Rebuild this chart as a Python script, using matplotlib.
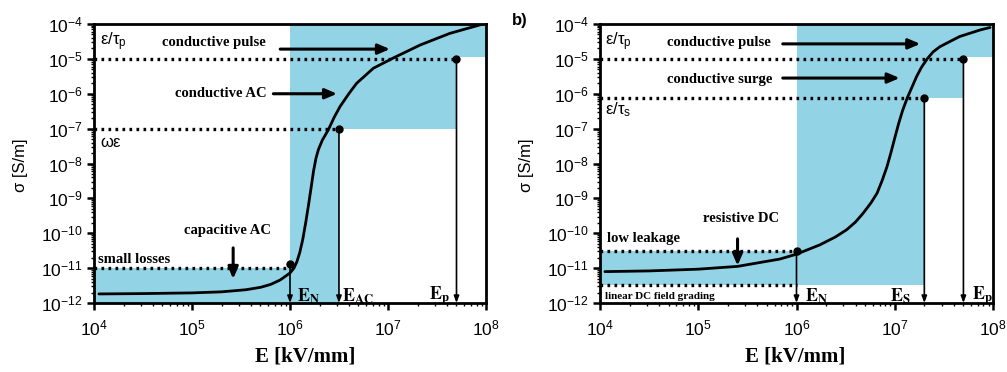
import numpy as np
import matplotlib
matplotlib.use("Agg")
import matplotlib.pyplot as plt

plt.rcParams["font.family"] = ["Liberation Sans", "DejaVu Sans"]
plt.rcParams["mathtext.fontset"] = "custom"
plt.rcParams["mathtext.rm"] = "Liberation Sans"
plt.rcParams["mathtext.it"] = "Liberation Sans:italic"
plt.rcParams["mathtext.bf"] = "Liberation Sans:bold"

BLUE = "#92d3e5"
SERIF = ["Liberation Serif", "DejaVu Serif"]

# a) curve (log10 values)
LOG_E_A = [4.05, 4.5, 5.0, 5.3, 5.55, 5.7, 5.8, 5.9, 6.0, 6.04, 6.07, 6.1, 6.13,
           6.16, 6.19, 6.215, 6.24, 6.265, 6.29, 6.33, 6.39, 6.45, 6.51, 6.6, 6.68,
           6.85, 7.05, 7.33, 7.63, 7.97]
LOG_S_A = [-11.74, -11.73, -11.71, -11.68, -11.62, -11.55, -11.47, -11.34, -11.14,
           -11.0, -10.82, -10.55, -10.18, -9.7, -9.17, -8.7, -8.22, -7.85, -7.6,
           -7.33, -7.04, -6.68, -6.37, -6.0, -5.70, -5.27, -4.98, -4.60, -4.27, -4.0]

# b) curve
LOG_E_B = [4.05, 4.5, 5.0, 5.4, 5.83, 6.0, 6.24, 6.4, 6.51, 6.6, 6.68, 6.76, 6.82,
           6.87, 6.92, 6.96, 7.0, 7.04, 7.08, 7.13, 7.18, 7.22, 7.27, 7.33, 7.39,
           7.46, 7.66, 7.87, 7.97]
LOG_S_B = [-11.1, -11.08, -11.03, -10.95, -10.74, -10.6, -10.33, -10.1, -9.9, -9.68,
           -9.42, -9.12, -8.85, -8.5, -8.1, -7.7, -7.27, -6.85, -6.48, -6.1, -5.78,
           -5.52, -5.25, -5.0, -4.8, -4.65, -4.36, -4.17, -4.1]

# characteristic fields and conductivity levels
E_N = 1e6
E_AC = 3.16e6
E_S = 2e7
E_P = 5e7
SIG_PULSE = 1e-5
SIG_AC = 1e-7
SIG_LOSS = 1e-11
SIG_SURGE = 7.6e-7
SIG_LEAK = 3.0e-11
SIG_LIN = 3.3e-12
DOT_A = [(E_N, 1.3e-11), (E_AC, SIG_AC), (E_P, SIG_PULSE)]
DOT_B = [(E_N, SIG_LEAK), (E_S, SIG_SURGE), (E_P, SIG_PULSE)]

fig = plt.figure(figsize=(10.07, 3.72), dpi=100)
ax_a = fig.add_axes([94 / 1007, 69 / 372, 392 / 1007, 279 / 372])
ax_b = fig.add_axes([600 / 1007, 69 / 372, 393 / 1007, 279 / 372])


def setup(ax):
    ax.set_xscale("log")
    ax.set_yscale("log")
    ax.set_xlim(1e4, 1e8)
    ax.set_ylim(1e-12, 1e-4)
    for s in ax.spines.values():
        s.set_linewidth(2.0)
    ax.tick_params(which="major", direction="out", length=5, width=1.8,
                   labelsize=12.5, top=False, right=False)
    ax.tick_params(which="minor", direction="out", length=2.5, width=1.0,
                   top=False, right=False)
    ax.tick_params(axis="x", pad=6)
    ax.tick_params(axis="y", pad=3)
    ax.set_yticks(10.0 ** np.arange(-12, -3))
    ax.set_xticks(10.0 ** np.arange(4, 9))
    ax.yaxis.set_minor_locator(matplotlib.ticker.LogLocator(base=10, subs=np.arange(2, 10), numticks=20))
    ax.yaxis.set_minor_formatter(matplotlib.ticker.NullFormatter())
    ax.xaxis.set_minor_formatter(matplotlib.ticker.NullFormatter())


def dotted(ax, x1, y):
    ax.plot([1e4, x1], [y, y], color="black", lw=2.4, ls=(0, (0.8, 1.3)),
            dash_capstyle="butt", zorder=3)


def drop(ax, x, y):
    ax.plot([x], [y], "o", color="black", ms=5, zorder=5)
    ax.annotate("", xy=(x, 1e-12), xytext=(x, y),
                arrowprops=dict(arrowstyle="-|>,head_length=0.4,head_width=0.15",
                                color="black", lw=1.2, shrinkA=0, shrinkB=0), zorder=4)


def arrow(ax, x0, y0, x1, y1):
    ax.annotate("", xy=(x1, y1), xytext=(x0, y0),
                arrowprops=dict(arrowstyle="-|>,head_length=0.7,head_width=0.3",
                                color="black", lw=2.2, shrinkA=0, shrinkB=0), zorder=6)


def label(ax, x, y, s, size=10.5, **kw):
    ax.text(x, y, s, fontsize=size, fontweight="bold", family=SERIF,
            va="center", ha="left", zorder=6, **kw)


def sym(ax, x, y, s, size=12):
    ax.text(x, y, s, fontsize=size, math_fontfamily="stix", va="center",
            ha="left", zorder=6)


def curve(ax, log_e, log_s):
    ax.plot(10.0 ** np.array(log_e), 10.0 ** np.array(log_s), color="black",
            lw=2.0, solid_joinstyle="round", solid_capstyle="round", zorder=4)


# ---------- a) ----------
setup(ax_a)
ax_a.fill_between([1e4, E_N], 1e-12, SIG_LOSS, color=BLUE, lw=0, zorder=1)
ax_a.fill_between([E_N, E_AC], 1e-12, 1e-4, color=BLUE, lw=0, zorder=1)
ax_a.fill_between([E_AC, E_P], SIG_AC, 1e-4, color=BLUE, lw=0, zorder=1)
ax_a.fill_between([E_P, 1e8], 1.1e-5, 1e-4, color=BLUE, lw=0, zorder=1)
dotted(ax_a, E_P, SIG_PULSE)
dotted(ax_a, E_AC, SIG_AC)
dotted(ax_a, E_N, SIG_LOSS)
for x, y in DOT_A:
    drop(ax_a, x, y)
curve(ax_a, LOG_E_A, LOG_S_A)

sym(ax_a, 10 ** 4.06, 10 ** -4.52, r"$\mathregular{\epsilon/\tau_p}$")
sym(ax_a, 10 ** 4.06, 10 ** -7.41, r"$\mathregular{\omega\epsilon}$")
label(ax_a, 10 ** 4.69, 10 ** -4.52, "conductive pulse")
arrow(ax_a, 10 ** 5.90, 10 ** -4.72, 10 ** 7.02, 10 ** -4.72)
label(ax_a, 10 ** 4.83, 10 ** -5.98, "conductive AC")
arrow(ax_a, 10 ** 5.83, 10 ** -6.0, 10 ** 6.48, 10 ** -6.0)
label(ax_a, 10 ** 4.92, 10 ** -9.93, "capacitive AC")
arrow(ax_a, 10 ** 5.42, 10 ** -10.42, 10 ** 5.42, 10 ** -11.31)
label(ax_a, 10 ** 4.04, 10 ** -10.76, "small losses")
sym(ax_a, 10 ** 6.07, 10 ** -11.8, r"$\mathbf{E_N}$", 13)
sym(ax_a, 10 ** 6.53, 10 ** -11.8, r"$\mathbf{E_{AC}}$", 13)
sym(ax_a, 10 ** 7.42, 10 ** -11.8, r"$\mathbf{E_p}$", 13)

# ---------- b) ----------
setup(ax_b)
ax_b.fill_between([1e4, E_N], SIG_LIN, SIG_LEAK, color=BLUE, lw=0, zorder=1)
ax_b.fill_between([E_N, E_S], SIG_LIN, 1e-4, color=BLUE, lw=0, zorder=1)
ax_b.fill_between([E_S, E_P], SIG_SURGE, 1e-4, color=BLUE, lw=0, zorder=1)
ax_b.fill_between([E_P, 1e8], 1.1e-5, 1e-4, color=BLUE, lw=0, zorder=1)
dotted(ax_b, E_P, SIG_PULSE)
dotted(ax_b, E_S, SIG_SURGE)
dotted(ax_b, E_N, SIG_LEAK)
dotted(ax_b, E_N, SIG_LIN)
for x, y in DOT_B:
    drop(ax_b, x, y)
curve(ax_b, LOG_E_B, LOG_S_B)

sym(ax_b, 10 ** 4.05, 10 ** -4.52, r"$\mathregular{\epsilon/\tau_p}$")
sym(ax_b, 10 ** 4.05, 10 ** -6.46, r"$\mathregular{\epsilon/\tau_s}$")
label(ax_b, 10 ** 4.68, 10 ** -4.52, "conductive pulse")
arrow(ax_b, 10 ** 5.86, 10 ** -4.57, 10 ** 7.26, 10 ** -4.57)
label(ax_b, 10 ** 4.68, 10 ** -5.6, "conductive surge")
arrow(ax_b, 10 ** 5.86, 10 ** -5.55, 10 ** 7.05, 10 ** -5.55)
label(ax_b, 10 ** 5.05, 10 ** -9.59, "resistive DC")
arrow(ax_b, 10 ** 5.40, 10 ** -10.16, 10 ** 5.40, 10 ** -10.93)
label(ax_b, 10 ** 4.07, 10 ** -10.16, "low leakage")
ax_b.text(10 ** 4.05, 10 ** -11.8, "linear DC field grading", fontsize=8,
          family=SERIF, fontweight="bold", va="center", ha="left", zorder=6)
sym(ax_b, 10 ** 6.09, 10 ** -11.8, r"$\mathbf{E_N}$", 13)
sym(ax_b, 10 ** 6.95, 10 ** -11.8, r"$\mathbf{E_S}$", 13)
sym(ax_b, 10 ** 7.79, 10 ** -11.8, r"$\mathbf{E_p}$", 13)

# axis titles
for xl, xx in [(20, 305), (527, 795)]:
    fig.text(xl / 1007, 1 - 165 / 372, "σ [S/m]", rotation=90, fontsize=12,
             ha="center", va="center")
    fig.text(xx / 1007, 1 - 357 / 372, "E [kV/mm]", fontsize=15, fontweight="bold",
             family=SERIF, ha="center", va="center")
fig.text(520 / 1007, 1 - 20 / 372, "b)", fontsize=12, fontweight="bold",
         ha="center", va="center")

fig.savefig("out.png", dpi=100, facecolor="white")
